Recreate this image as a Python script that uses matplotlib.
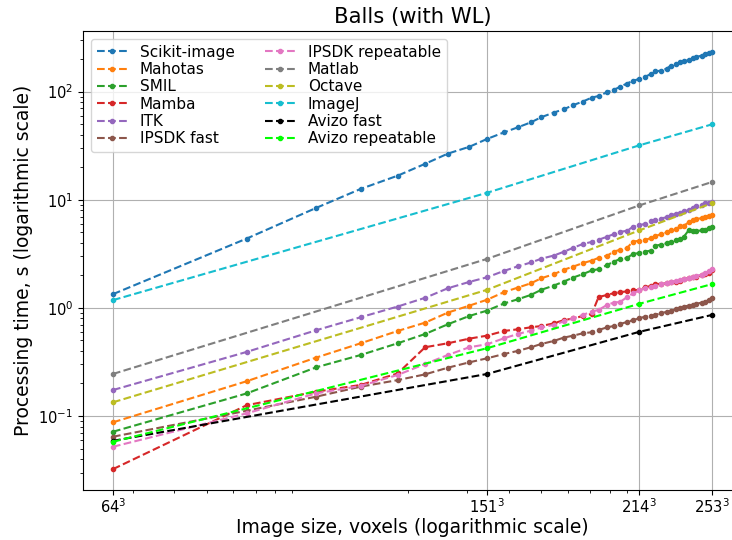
"""Balls (with WL) processing time benchmark plot."""

import numpy as np
import matplotlib
matplotlib.use("Agg")
import matplotlib.pyplot as plt

# image edge sizes (voxels = size**3)
sizes = [64, 87, 102, 113, 123, 131, 138, 145, 151, 157, 162, 167, 171, 176,
         180, 184, 188, 192, 195, 199, 202, 205, 208, 211, 214, 217, 220, 222,
         225, 228, 230, 233, 235, 237, 240, 242, 244, 247, 249, 251, 253]
sizes_sparse = [64, 151, 214, 253]

scikit_image = [1.34, 4.38, 8.4, 12.6, 16.7, 21.5, 26.7, 30.9, 36.5, 42, 46.7,
                52, 58, 64, 68.6, 75, 80.8, 88, 91, 99, 104, 111, 118.6, 125.6,
                131, 137, 146, 154, 156, 163, 173, 179, 186, 190, 196, 203,
                209, 215, 222, 228, 233]
mahotas = [0.0875, 0.21, 0.347, 0.471, 0.612, 0.731, 0.905, 1.05, 1.19, 1.40,
           1.54, 1.69, 1.88, 2.05, 2.25, 2.41, 2.59, 2.74, 2.9, 3.05, 3.32,
           3.45, 3.55, 4.11, 4.17, 4.26, 4.42, 4.6, 4.81, 4.98, 5.2, 5.39,
           5.66, 5.75, 6.2, 6.43, 6.62, 6.77, 7.0, 7.1, 7.26]
smil = [0.0716, 0.162, 0.282, 0.367, 0.471, 0.574, 0.706, 0.843, 0.944, 1.10,
        1.20, 1.32, 1.47, 1.61, 1.75, 1.91, 2.05, 2.22, 2.28, 2.50, 2.68, 2.84,
        2.88, 3.16, 3.21, 3.32, 3.39, 3.75, 3.85, 3.95, 4.11, 4.2, 4.33, 4.52,
        5.27, 5.09, 5.15, 5.2, 5.27, 5.47, 5.54]
mamba = [0.0323, 0.126, 0.168, 0.194, 0.248, 0.433, 0.471, 0.52, 0.554, 0.612,
         0.634, 0.662, 0.68, 0.72, 0.77, 0.80, 0.84, 0.88, 1.26, 1.32, 1.37,
         1.40, 1.42, 1.45, 1.47, 1.55, 1.6, 1.66, 1.67, 1.69, 1.72, 1.75, 1.78,
         1.84, 1.88, 1.92, 1.95, 2.0, 2.05, 2.12, 2.22]
itk = [0.174, 0.392, 0.621, 0.82, 1.03, 1.24, 1.52, 1.74, 1.92, 2.2, 2.42,
       2.63, 2.85, 3.05, 3.3, 3.6, 3.89, 4.08, 4.26, 4.57, 4.81, 5.05, 5.16,
       5.6, 5.8, 6.0, 6.3, 6.5, 6.7, 6.9, 7.2, 7.4, 7.6, 7.8, 8.0, 8.4, 8.8,
       9.0, 9.3, 9.4, 9.6]
ipsdk_fast = [0.0644, 0.112, 0.151, 0.187, 0.215, 0.243, 0.280, 0.314, 0.342,
              0.375, 0.40, 0.433, 0.464, 0.495, 0.531, 0.554, 0.582, 0.596,
              0.625, 0.662, 0.681, 0.711, 0.74, 0.77, 0.802, 0.83, 0.845,
              0.861, 0.893, 0.92, 0.938, 0.972, 1.0, 1.03, 1.05, 1.07, 1.09,
              1.12, 1.14, 1.18, 1.23]
ipsdk_rep = [0.052, 0.106, 0.162, 0.19, 0.24, 0.303, 0.367, 0.433, 0.461,
             0.524, 0.574, 0.616, 0.66, 0.696, 0.75, 0.80, 0.86, 0.924, 0.958,
             1.07, 1.12, 1.14, 1.25, 1.36, 1.45, 1.52, 1.55, 1.58, 1.66, 1.70,
             1.75, 1.78, 1.82, 1.85, 1.88, 1.93, 1.98, 2.03, 2.09, 2.18, 2.28]
matlab = [0.245, 2.84, 8.85, 14.6]
octave = [0.134, 1.47, 5.2, 9.3]
imagej = [1.18, 11.6, 31.8, 49.8]
avizo_fast = [0.059, 0.245, 0.60, 0.861]
avizo_rep = [0.0578, 0.424, 1.09, 1.66]

vox = np.array(sizes, dtype=float) ** 3
vox_sparse = np.array(sizes_sparse, dtype=float) ** 3

series = [
    (vox, scikit_image, "Scikit-image", "C0"),
    (vox, mahotas, "Mahotas", "C1"),
    (vox, smil, "SMIL", "C2"),
    (vox, mamba, "Mamba", "C3"),
    (vox, itk, "ITK", "C4"),
    (vox, ipsdk_fast, "IPSDK fast", "C5"),
    (vox, ipsdk_rep, "IPSDK repeatable", "C6"),
    (vox_sparse, matlab, "Matlab", "C7"),
    (vox_sparse, octave, "Octave", "C8"),
    (vox_sparse, imagej, "ImageJ", "C9"),
    (vox_sparse, avizo_fast, "Avizo fast", "k"),
    (vox_sparse, avizo_rep, "Avizo repeatable", "lime"),
]

fig = plt.figure(figsize=(7.32, 5.40), dpi=100)
ax = fig.add_axes([83 / 732, 50 / 540, 659 / 732, 459 / 540])

for xv, yv, name, col in series:
    ax.plot(xv, yv, "--.", color=col, label=name)

ax.set_xscale("log")
ax.set_yscale("log")
ax.set_xticks(vox_sparse)
ax.set_xticklabels([r"$%d^3$" % s for s in sizes_sparse])
ax.tick_params(labelsize=10.6)
ax.tick_params(axis="x", which="major", pad=2)
ax.grid(True, which="major", color="#b0b0b0", linewidth=0.8)

ax.set_title("Balls (with WL)", fontsize=15.2)
ax.set_xlabel("Image size, voxels (logarithmic scale)", fontsize=13.5,
              labelpad=1)
ax.set_ylabel("Processing time, s (logarithmic scale)", fontsize=13.5)
ax.legend(loc="upper left", ncol=2, fontsize=11, labelspacing=0.15)

fig.savefig("out.png", dpi=100)
